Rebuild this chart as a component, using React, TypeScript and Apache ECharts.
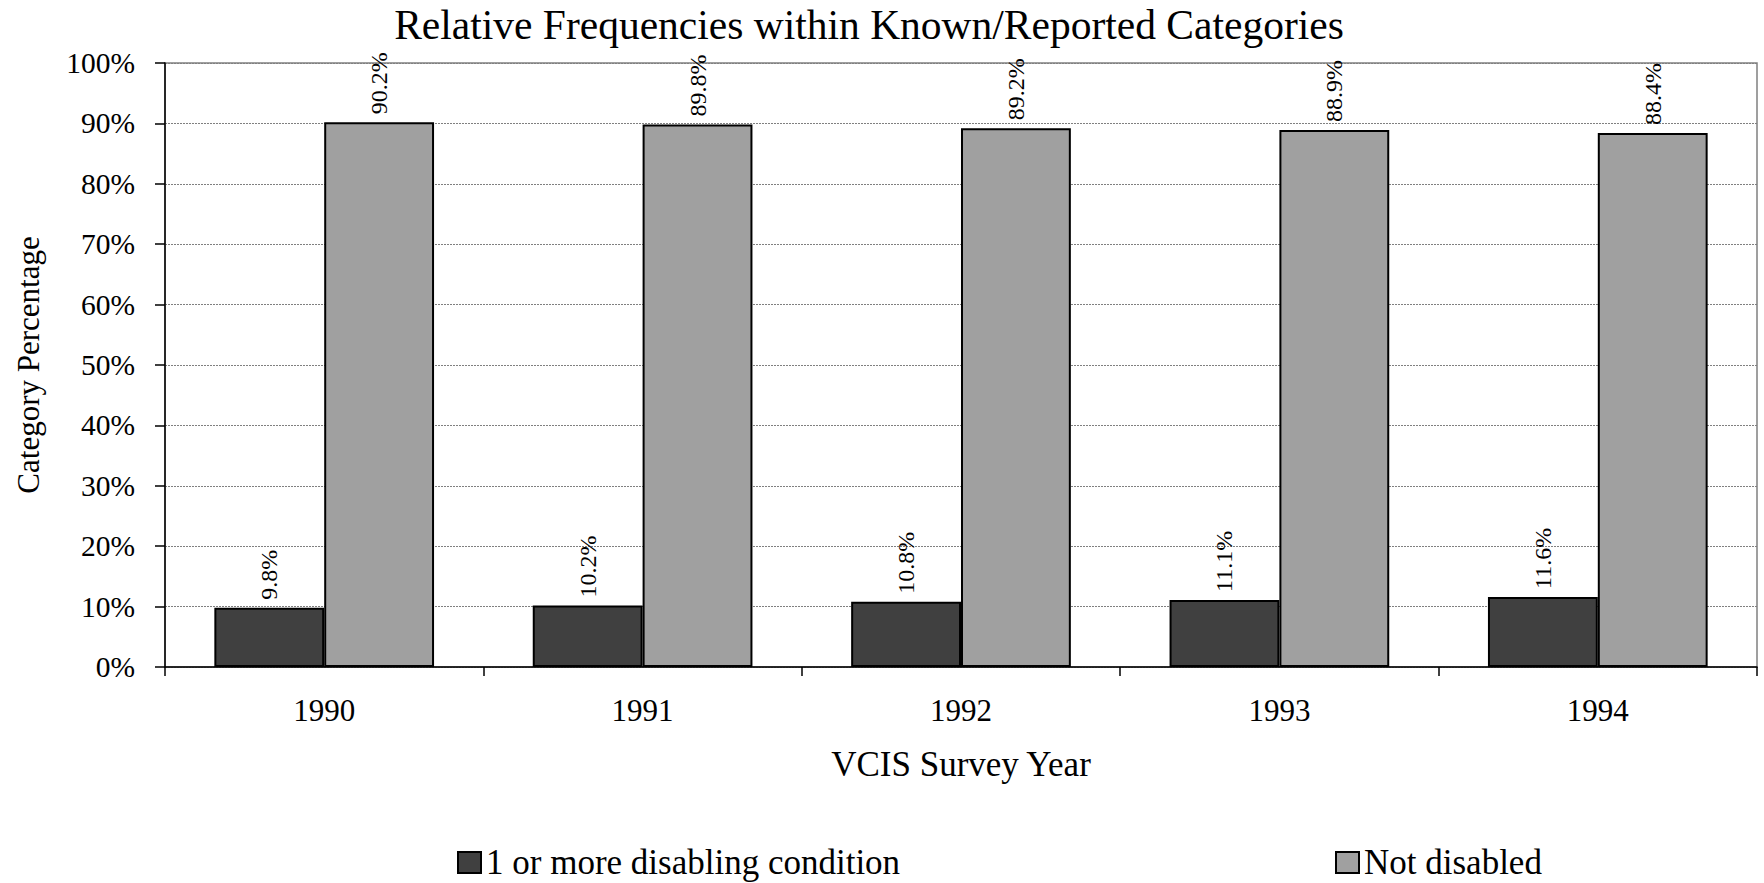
import React, { useEffect, useRef } from "react";
import * as echarts from "echarts";

const categories = ["1990", "1991", "1992", "1993", "1994"];
const disabledValues = [9.8, 10.2, 10.8, 11.1, 11.6];
const notDisabledValues = [90.2, 89.8, 89.2, 88.9, 88.4];
const seriesNames = ["1 or more disabling condition", "Not disabled"];
const titleText = "Relative Frequencies within Known/Reported Categories";
const xAxisTitle = "VCIS Survey Year";
const yAxisTitle = "Category Percentage";

const FONT = '"Liberation Serif", "Times New Roman", serif';

export default function App() {
  const ref = useRef<HTMLDivElement>(null);

  useEffect(() => {
    if (!ref.current) return;
    const chart = echarts.init(ref.current, undefined, { renderer: "svg" });
    const label = {
      show: true,
      position: "top",
      rotate: 90,
      align: "left",
      verticalAlign: "middle",
      distance: 8,
      fontFamily: FONT,
      fontSize: 24,
      color: "#000",
      formatter: (p: any) => Number(p.value).toFixed(1) + "%",
    };
    const legendCommon = {
      top: 845,
      padding: 0,
      itemWidth: 23,
      itemHeight: 21,
      icon: "rect",
      itemStyle: { borderColor: "#000", borderWidth: 2 },
      textStyle: { fontFamily: FONT, fontSize: 35, color: "#000" },
    };
    chart.setOption({
      animation: false,
      backgroundColor: "#fff",
      textStyle: { fontFamily: FONT, color: "#000" },
      graphic: [
        {
          type: "text",
          x: 869,
          y: 25,
          style: {
            text: titleText,
            fontFamily: FONT,
            fontSize: 41.5,
            fill: "#000",
            textAlign: "center",
            textVerticalAlign: "middle",
          },
        },
      ],
      grid: {
        left: 165,
        right: 7,
        top: 63,
        bottom: 216,
        show: true,
        borderColor: "#808080",
        borderWidth: 1.5,
        backgroundColor: "transparent",
      },
      legend: [
        { ...legendCommon, data: [seriesNames[0]], left: 457 },
        { ...legendCommon, data: [seriesNames[1]], left: 1335 },
      ],
      xAxis: {
        type: "category",
        data: categories,
        name: xAxisTitle,
        nameLocation: "middle",
        nameGap: 80,
        nameTextStyle: { fontFamily: FONT, fontSize: 35, color: "#000" },
        axisLine: { lineStyle: { color: "#000", width: 1.5 } },
        axisTick: { show: true, length: 9, inside: false, lineStyle: { color: "#000", width: 1.5 } },
        axisLabel: { margin: 28, fontFamily: FONT, fontSize: 31, color: "#000" },
      },
      yAxis: {
        type: "value",
        min: 0,
        max: 100,
        interval: 10,
        name: yAxisTitle,
        nameLocation: "middle",
        nameGap: 121,
        nameTextStyle: { fontFamily: FONT, fontSize: 31, color: "#000" },
        axisLine: { show: true, lineStyle: { color: "#000", width: 1.5 } },
        axisTick: { show: true, length: 10, lineStyle: { color: "#000", width: 1.5 } },
        axisLabel: {
          margin: 30,
          fontFamily: FONT,
          fontSize: 29.5,
          color: "#000",
          formatter: (v: number) => v + "%",
        },
        splitLine: { show: true, lineStyle: { color: "#808080", type: [2, 1], width: 1 } },
      },
      series: [
        {
          name: seriesNames[0],
          type: "bar",
          data: disabledValues,
          barGap: "0%",
          barCategoryGap: "31%",
          itemStyle: { color: "#404040", borderColor: "#000", borderWidth: 2 },
          label,
        },
        {
          name: seriesNames[1],
          type: "bar",
          data: notDisabledValues,
          barGap: "0%",
          barCategoryGap: "31%",
          itemStyle: { color: "#a0a0a0", borderColor: "#000", borderWidth: 2 },
          label,
        },
      ],
    });
    return () => chart.dispose();
  }, []);

  return (
    <div
      ref={ref}
      style={{ position: "fixed", left: 0, top: 0, width: 1764, height: 883, background: "#fff" }}
    />
  );
}
